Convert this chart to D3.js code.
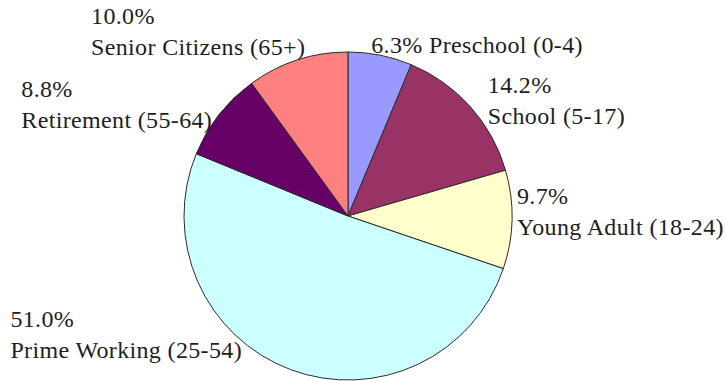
<!DOCTYPE html>
<html>
<head>
<meta charset="utf-8">
<script src="https://cdn.jsdelivr.net/npm/d3@7"></script>
<style>
  html, body { margin: 0; padding: 0; background: #fff; }
  svg { display: block; }
</style>
</head>
<body>
<svg id="chart" width="726" height="381"></svg>
<script>
// age groups, clockwise from 12 o'clock
const groups = ["Preschool (0-4)", "School (5-17)", "Young Adult (18-24)",
                "Prime Working (25-54)", "Retirement (55-64)", "Senior Citizens (65+)"];
const shares = [6.3, 14.2, 9.7, 51.0, 8.8, 10.0];
const colors = ["#9999ff", "#993366", "#ffffcc", "#ccffff", "#660066", "#ff8080"];

const width = 726, height = 381;
const cx = 348, cy = 216, radius = 164;

// label nudges from the radial anchor (Excel style placement)
const labelNudge = [
  {dx: -11, dy: 0, inline: true},
  {dx: 10, dy: 0},
  {dx: -5, dy: -8},
  {dx: -45, dy: -44},
  {dx: 1, dy: -4},
  {dx: 11, dy: -19}
];

const svg = d3.select("#chart");
const g = svg.append("g").attr("transform", `translate(${cx},${cy})`);

const pie = d3.pie().sort(null).value(d => d);
const arcs = pie(shares);

const arc = d3.arc().innerRadius(0).outerRadius(radius);
const labelArc = d3.arc().innerRadius(radius + 10).outerRadius(radius + 10);

g.selectAll("path.slice")
  .data(arcs)
  .join("path")
    .attr("class", "slice")
    .attr("d", arc)
    .attr("fill", (d, i) => colors[i])
    .attr("stroke", "#2b2b2b")
    .attr("stroke-width", 1)
    .attr("stroke-linejoin", "round");

const fmt = d3.format(".1f");
const lineH = 31;

const labels = g.selectAll("text.lbl")
  .data(arcs)
  .join("text")
    .attr("class", "lbl")
    .style("font-family", '"Liberation Serif"')
    .style("letter-spacing", "0.35px")
    .attr("font-size", 24)
    .attr("fill", "#1e1e1e");

labels.each(function(d, i) {
  const t = d3.select(this);
  const nudge = labelNudge[i];
  const lines = nudge.inline
    ? [`${fmt(shares[i])}% ${groups[i]}`]
    : [`${fmt(shares[i])}%`, groups[i]];
  lines.forEach((s, k) => t.append("tspan").attr("x", 0).attr("dy", k === 0 ? 0 : lineH).text(s));

  const [ax, ay] = labelArc.centroid(d);
  const mid = (d.startAngle + d.endAngle) / 2;
  const onRight = mid < Math.PI;
  let blockW = 0;
  t.selectAll("tspan").each(function() { blockW = Math.max(blockW, this.getComputedTextLength()); });
  const left = (onRight ? ax : ax - blockW) + nudge.dx;
  const blockH = (lines.length - 1) * lineH;
  // first baseline so that the block is centred around the anchor
  const top = ay + nudge.dy - blockH / 2 + 8;
  t.attr("transform", `translate(${left},${top})`);
});
</script>
</body>
</html>
